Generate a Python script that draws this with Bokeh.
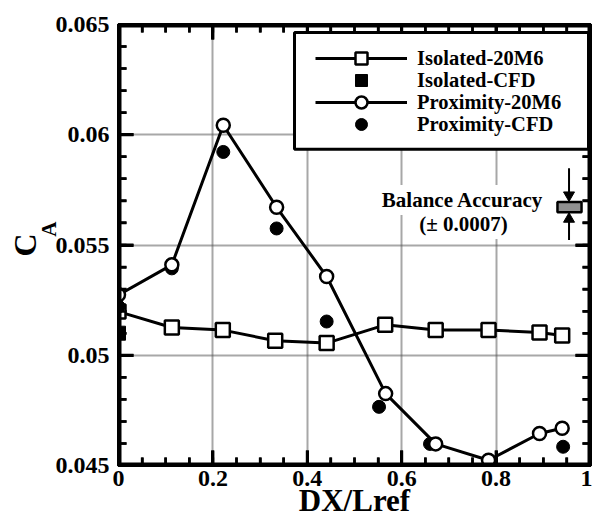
from bokeh.plotting import figure
from bokeh.models import (LinearAxis, FixedTicker, Legend, LegendItem, Label,
                          Range1d, BoxAnnotation)
from bokeh.embed import file_html
from bokeh.resources import INLINE

# ---------------- data ----------------
iso_x = [0.0, 0.113, 0.221, 0.332, 0.441, 0.565, 0.672, 0.784, 0.892, 0.940]
iso_y = [0.05198, 0.05126, 0.05114, 0.05066, 0.05055, 0.05138, 0.05115, 0.05115, 0.05103, 0.05090]

iso_cfd_x = [0.0]
iso_cfd_y = [0.05100]

prox_x = [0.0, 0.113, 0.222, 0.335, 0.441, 0.566, 0.672, 0.784, 0.892, 0.940]
prox_y = [0.05274, 0.05410, 0.06043, 0.05671, 0.05357, 0.04826, 0.04598, 0.04524, 0.04645, 0.04669]

prox_cfd_x = [0.0, 0.113, 0.222, 0.335, 0.441, 0.552, 0.660, 0.942]
prox_cfd_y = [0.05221, 0.05394, 0.05922, 0.05575, 0.05153, 0.04766, 0.04598, 0.04585]

x_ticks = [0.0, 0.2, 0.4, 0.6, 0.8, 1.0]
x_tick_labels = ["0", "0.2", "0.4", "0.6", "0.8", "1"]
y_ticks = [0.045, 0.05, 0.055, 0.06, 0.065]
y_tick_labels = ["0.045", "0.05", "0.055", "0.06", "0.065"]
x_minor = [round(0.05 * i, 3) for i in range(21)]
y_minor = [round(0.045 + 0.001 * i, 4) for i in range(21)]
x_grid = [0.2, 0.4, 0.6, 0.8]
y_grid = [0.05, 0.055, 0.06]

X0, X1 = 0.0, 1.0
Y0, Y1 = 0.045, 0.065
W, H = 592, 520
BL, BR, BT, BB = 118, 2, 24, 54
FW, FH = W - BL - BR, H - BT - BB          # frame size in pixels
PX = (X1 - X0) / FW                          # data units per pixel
PY = (Y1 - Y0) / FH
FONT = "Liberation Serif"


def ypix(py):
    return Y1 - (py - BT) * PY


p = figure(width=W, height=H, x_range=Range1d(X0, X1), y_range=Range1d(Y0, Y1),
           output_backend="svg", toolbar_location=None,
           min_border_left=BL, min_border_right=BR, min_border_top=BT, min_border_bottom=BB)
p.outline_line_color = "black"
p.outline_line_width = 3


def style_ticks(ax, ticks, minor):
    ax.ticker = FixedTicker(ticks=ticks, minor_ticks=minor)
    ax.axis_line_width = 3
    ax.axis_line_color = "black"
    ax.major_tick_in = 15
    ax.major_tick_out = 0
    ax.major_tick_line_width = 3
    ax.major_tick_line_color = "black"
    ax.minor_tick_in = 8
    ax.minor_tick_out = 0
    ax.minor_tick_line_width = 2.5
    ax.minor_tick_line_color = "black"
    ax.major_label_text_font = FONT
    ax.major_label_text_font_style = "bold"
    ax.major_label_text_color = "black"


def hide_labels(ax, ticks):
    ax.major_label_text_font_size = "1px"
    ax.major_label_text_alpha = 0.0
    ax.major_label_standoff = 0
    ax.major_label_overrides = {t: "" for t in ticks}


xb = p.xaxis[0]
style_ticks(xb, x_ticks, x_minor)
xb.major_label_text_font_size = "24px"
xb.major_label_standoff = 5
xb.major_label_overrides = {t: l for t, l in zip(x_ticks, x_tick_labels)}
xb.axis_label = "DX/Lref"
xb.axis_label_text_font = FONT
xb.axis_label_text_font_style = "bold"
xb.axis_label_text_font_size = "31px"
xb.axis_label_text_color = "black"
xb.axis_label_standoff = -6

yl = p.yaxis[0]
style_ticks(yl, y_ticks, y_minor)
yl.major_label_text_font_size = "24px"
yl.major_label_standoff = 9
yl.major_label_overrides = {t: l for t, l in zip(y_ticks, y_tick_labels)}

xt = LinearAxis()
style_ticks(xt, x_ticks, x_minor)
hide_labels(xt, x_ticks)
p.add_layout(xt, "above")
yr = LinearAxis()
style_ticks(yr, y_ticks, y_minor)
hide_labels(yr, y_ticks)
p.add_layout(yr, "right")


def title_axis(text, size, standoff):
    ax = LinearAxis(ticker=FixedTicker(ticks=y_ticks))
    ax.axis_line_color = None
    ax.major_tick_line_color = None
    ax.minor_tick_line_color = None
    ax.major_tick_in = 0
    ax.major_tick_out = 0
    ax.minor_tick_out = 0
    hide_labels(ax, y_ticks)
    ax.axis_label = text
    ax.axis_label_text_font = FONT
    ax.axis_label_text_font_style = "bold"
    ax.axis_label_text_font_size = size
    ax.axis_label_text_color = "black"
    ax.axis_label_standoff = standoff
    return ax


# y-axis title: C with subscript A
p.add_layout(title_axis("\u00a0" * 6 + "A", "21px", -8), "left")
p.add_layout(title_axis("C", "32px", -9), "left")

# dotted grid
p.xgrid.ticker = FixedTicker(ticks=x_grid)
p.ygrid.ticker = FixedTicker(ticks=y_grid)
for g in (p.xgrid[0], p.ygrid[0]):
    g.grid_line_color = "#505050"
    g.grid_line_width = 2
    g.grid_line_dash = "1 1"
    g.grid_line_alpha = 1.0

# inward tick marks drawn just inside the frame (through the plot scales)
MAJ, MIN, E = 15, 8, 1
ny, nym, nx, nxm = len(y_ticks), len(y_minor), len(x_ticks), len(x_minor)
tick_sets = [
    ([X0 + E * PX] * ny, y_ticks, [X0 + MAJ * PX] * ny, y_ticks, 3),
    ([X1 - E * PX] * ny, y_ticks, [X1 - MAJ * PX] * ny, y_ticks, 3),
    ([X0 + E * PX] * nym, y_minor, [X0 + MIN * PX] * nym, y_minor, 2.5),
    ([X1 - E * PX] * nym, y_minor, [X1 - MIN * PX] * nym, y_minor, 2.5),
    (x_ticks, [Y0 + E * PY] * nx, x_ticks, [Y0 + MAJ * PY] * nx, 3),
    (x_ticks, [Y1 - E * PY] * nx, x_ticks, [Y1 - MAJ * PY] * nx, 3),
    (x_minor, [Y0 + E * PY] * nxm, x_minor, [Y0 + MIN * PY] * nxm, 2.5),
    (x_minor, [Y1 - E * PY] * nxm, x_minor, [Y1 - MIN * PY] * nxm, 2.5),
]
for xs0, ys0, xs1, ys1, lw in tick_sets:
    p.segment(x0=xs0, y0=ys0, x1=xs1, y1=ys1, line_color="black", line_width=lw)

# heavy frame border, inset so it lies inside the frame
p.add_layout(BoxAnnotation(left=X0 + 1.5 * PX, right=X1 - 1.5 * PX,
                           bottom=Y0 + 1.5 * PY, top=Y1 - 1.5 * PY,
                           fill_alpha=0.0, line_color="black", line_width=3, line_alpha=1.0))

# ---------------- series ----------------
iso_line = p.line(iso_x, iso_y, line_color="black", line_width=3)
prox_line = p.line(prox_x, prox_y, line_color="black", line_width=3)
iso_sq = p.scatter(iso_x, iso_y, marker="square", size=14, fill_color="white",
                   line_color="black", line_width=2.5)
iso_cfd = p.scatter(iso_cfd_x, iso_cfd_y, marker="square", size=14, fill_color="black",
                    line_color="black", line_width=1)
prox_cfd = p.scatter(prox_cfd_x, prox_cfd_y, marker="circle", size=13, fill_color="black",
                     line_color="black", line_width=1)
prox_c = p.scatter(prox_x, prox_y, marker="circle", size=13, fill_color="white",
                   line_color="black", line_width=2.5)

# ---------------- legend (framed box + one row legend per entry) ----------------
LG_L, LG_R, LG_T, LG_B = 294, 588, 32, 149   # legend box in canvas pixels
p.add_layout(BoxAnnotation(left=X0 + (LG_L - BL) * PX, right=X0 + (LG_R - BL) * PX,
                           top=ypix(LG_T), bottom=ypix(LG_B),
                           fill_color="white", fill_alpha=1.0, line_color="black",
                           line_width=3, line_alpha=1.0))
entries = [
    ("Isolated-20M6", [iso_line, iso_sq]),
    ("Isolated-CFD", [iso_cfd]),
    ("Proximity-20M6", [prox_line, prox_c]),
    ("Proximity-CFD", [prox_cfd]),
]
row_centres = [59, 81, 103, 125]
for (lab, rends), yc in zip(entries, row_centres):
    lg = Legend(items=[LegendItem(label=lab, renderers=rends)])
    lg.location = (315 - BL, (BT + FH) - (yc + 15))
    lg.margin = 0
    lg.padding = 0
    lg.spacing = 0
    lg.glyph_width = 92
    lg.glyph_height = 30
    lg.label_height = 30
    lg.label_standoff = 10
    lg.label_text_font = FONT
    lg.label_text_font_style = "bold"
    lg.label_text_font_size = "20.5px"
    lg.label_text_color = "black"
    lg.label_text_baseline = "middle"
    lg.border_line_color = None
    lg.background_fill_alpha = 0.0
    p.add_layout(lg)

# ---------------- balance-accuracy annotation ----------------
p.add_layout(Label(x=0.729, y=0.057036, text="Balance Accuracy", text_align="center",
                   text_baseline="middle", text_font=FONT, text_font_style="bold",
                   text_font_size="21px", text_color="black",
                   background_fill_color="white", padding=3))
p.add_layout(Label(x=0.731, y=0.05595, text="(\u00b1 0.0007)", text_align="center",
                   text_baseline="middle", text_font=FONT, text_font_style="bold",
                   text_font_size="21px", text_color="black",
                   background_fill_color="white", padding=3))
p.add_layout(BoxAnnotation(left=0.930, right=0.981, bottom=0.05649, top=0.05695,
                           fill_color="#909090", fill_alpha=1.0, line_color="black",
                           line_width=2.5, line_alpha=1.0))
AX = 0.9545
p.segment(x0=[AX, AX], y0=[ypix(168), ypix(240)], x1=[AX, AX], y1=[ypix(192), ypix(220)],
          line_color="black", line_width=2)
p.scatter([AX], [ypix(195)], marker="inverted_triangle", size=11, fill_color="black",
          line_color="black", line_width=1)
p.scatter([AX], [ypix(219)], marker="triangle", size=11, fill_color="black",
          line_color="black", line_width=1)

open("out.html", "w").write(file_html(p, INLINE))
